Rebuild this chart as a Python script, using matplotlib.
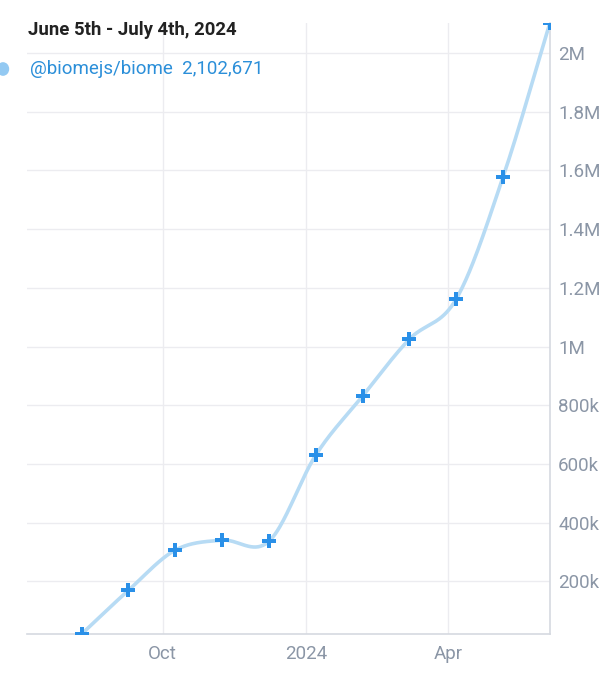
import matplotlib
matplotlib.use("Agg")
import matplotlib.pyplot as plt
import matplotlib.dates as mdates
import numpy as np
import datetime as dt

# data
dates = ["2023-08-10", "2023-09-09", "2023-10-09", "2023-11-08", "2023-12-08",
         "2024-01-07", "2024-02-06", "2024-03-07", "2024-04-06", "2024-05-06",
         "2024-06-05"]
downloads = [20000, 169000, 306000, 340000, 336000, 630000, 831000,
             1025000, 1162000, 1578000, 2102671]
series_name = "@biomejs/biome"
title = "June 5th - July 4th, 2024"
ytick_vals = [200000, 400000, 600000, 800000, 1000000, 1200000, 1400000,
              1600000, 1800000, 2000000]
ytick_labels = ["200k", "400k", "600k", "800k", "1M", "1.2M", "1.4M",
                "1.6M", "1.8M", "2M"]
xtick_dates = ["2023-10-01", "2024-01-01", "2024-04-01"]
xtick_labels = ["Oct", "2024", "Apr"]

plt.rcParams['font.family'] = ['Roboto', 'DejaVu Sans']

x = mdates.date2num([dt.datetime.fromisoformat(d) for d in dates])
y = np.array(downloads, dtype=float)


# catmull-rom style cubic hermite for the smooth line
def smooth(xs, ys, n=40):
    k = len(xs)
    m = np.zeros(k)
    m[0] = (ys[1] - ys[0]) / (xs[1] - xs[0])
    m[-1] = (ys[-1] - ys[-2]) / (xs[-1] - xs[-2])
    for i in range(1, k - 1):
        m[i] = (ys[i + 1] - ys[i - 1]) / (xs[i + 1] - xs[i - 1])
    px, py = [], []
    for i in range(k - 1):
        h = xs[i + 1] - xs[i]
        t = np.linspace(0, 1, n)
        h00 = 2 * t ** 3 - 3 * t ** 2 + 1
        h10 = t ** 3 - 2 * t ** 2 + t
        h01 = -2 * t ** 3 + 3 * t ** 2
        h11 = t ** 3 - t ** 2
        px.extend(xs[i] + t * h)
        py.extend(h00 * ys[i] + h10 * h * m[i] + h01 * ys[i + 1] + h11 * h * m[i + 1])
    return np.array(px), np.array(py)


sx, sy = smooth(x, y)

fig = plt.figure(figsize=(6.11, 6.80), dpi=100)
ax = fig.add_axes([0.0442, 0.0676, 0.8558, 0.8986])

ax.plot(sx, sy, color='#b7dbf4', lw=2.6, solid_capstyle='round', zorder=3)
ax.plot(x, y, linestyle='', marker='P', markersize=10.5, color='#2a90e8',
        markeredgewidth=0, zorder=4)

ax.set_xlim(mdates.date2num(dt.datetime(2023, 7, 6)), x[-1])
ax.set_ylim(y[0], y[-1])

ax.set_xticks(mdates.date2num([dt.datetime.fromisoformat(d) for d in xtick_dates]))
ax.set_xticklabels(xtick_labels)
ax.set_yticks(ytick_vals)
ax.set_yticklabels(ytick_labels, ha='left')
ax.yaxis.tick_right()
ax.tick_params(axis='both', length=0, labelsize=13.5, labelcolor='#8b96a6')
ax.tick_params(axis='y', pad=6)
ax.tick_params(axis='x', pad=8)

ax.grid(True, color='#ececf0', lw=1)
ax.set_axisbelow(True)
for side in ['top', 'left']:
    ax.spines[side].set_visible(False)
for side in ['right', 'bottom']:
    ax.spines[side].set_color('#d5d9e0')
    ax.spines[side].set_linewidth(1.2)

fig.text(28 / 611, 1 - 30 / 680, title, fontsize=13.3, fontweight='bold',
         color='#222222', va='center', ha='left')
fig.text(30 / 611, 1 - 69 / 680, series_name + "  " + f"{downloads[-1]:,}",
         fontsize=13.5, color='#2b8fd9', va='center', ha='left')
fig.patches.append(plt.Circle((3 / 611, 1 - 69 / 680), 0.009,
                              transform=fig.transFigure, color='#93c9f2'))

fig.savefig("out.png", dpi=100)
